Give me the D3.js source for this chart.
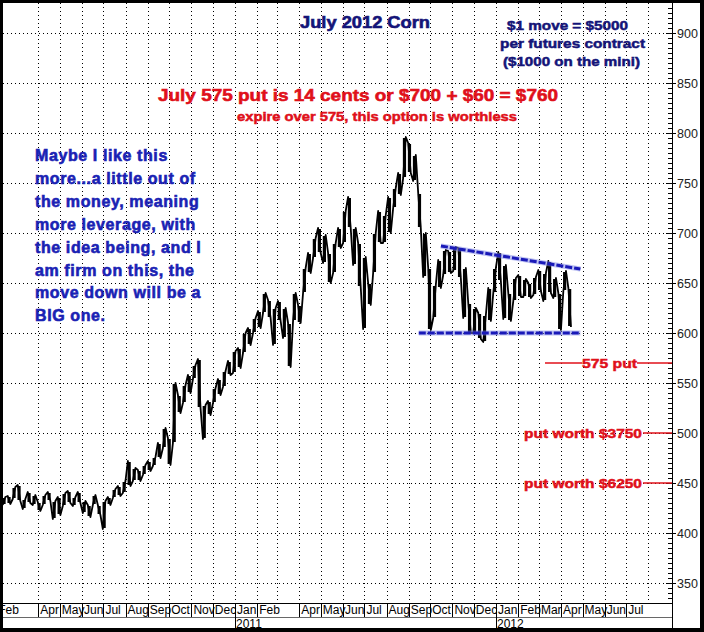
<!DOCTYPE html>
<html><head><meta charset="utf-8">
<script src="https://cdn.jsdelivr.net/npm/d3@7/dist/d3.min.js"></script>
<style>body{margin:0;background:#fff}svg{display:block}</style>
</head><body>
<script>
// ---------- DATA ----------
const weekStart = "2010-02-12"; // first weekly bar (Friday)
const highs = [436,437,446,448,434,441,438,431,438,441,432,436,440,442,436,441,432,428,438,428,
  432,436,444,447,452,472,465,463,468,472,476,490,505,495,550,538,548,558,568,574,
  528,532,545,554,562,572,582,585,600,605,615,622,640,633,625,632,625,610,640,628,
  665,680,695,705,698,680,690,705,722,736,705,690,676,650,700,722,718,736,745,760,
  796,790,778,740,700,665,648,673,683,682,686,685,665,630,625,620,618,645,665,681,
  668,640,655,658,654,650,656,663,660,672,655,640,662,645];
const lows = [428,429,434,432,424,430,428,422,428,432,414,418,427,430,427,430,420,416,428,418,
  404,428,435,437,440,447,452,452,458,462,467,475,485,468,490,520,530,540,554,525,
  494,518,530,538,546,558,560,565,580,588,600,605,620,615,588,612,595,566,612,610,
  640,660,675,680,670,650,660,685,690,705,668,646,604,628,660,690,690,700,725,738,
  755,760,752,705,656,603,615,645,658,660,662,655,615,600,600,594,591,612,640,652,
  614,612,632,636,636,635,638,642,632,640,635,603,642,606];
const yTicks = [350,400,450,500,550,600,650,700,750,800,850,900];
const monthLabels = ["2010-02-01","2010-04-01","2010-05-01","2010-06-01","2010-07-01","2010-08-01",
  "2010-09-01","2010-10-01","2010-11-01","2010-12-01","2011-01-01","2011-02-01","2011-04-01",
  "2011-05-01","2011-06-01","2011-07-01","2011-08-01","2011-09-01","2011-10-01","2011-11-01",
  "2011-12-01","2012-01-01","2012-02-01","2012-03-01","2012-04-01","2012-05-01","2012-06-01","2012-07-01"];
const yearLabels = ["2011-01-01","2012-01-01"];
const supportLine = {from:"2011-09-15", to:"2012-04-28", fromValue:600, toValue:600};
const resistanceLine = {from:"2011-10-16", to:"2012-04-28", fromValue:687, toValue:664};
const levelValues = [570, 500, 450];
const levelLabels = ["575 put", "put worth $3750", "put worth $6250"];
const noteLines = ["Maybe I like this","more...a little out of","the money, meaning","more leverage, with",
  "the idea being, and I","am firm on this, the","move down will be a","BIG one."];

// ---------- SETUP ----------
const W = 704, H = 632;
const plotL = 3, plotR = 672, plotT = 3, plotB = 603;
const parse = d3.timeParse("%Y-%m-%d");
const x = d3.scaleTime().domain([new Date(2011,0,1), new Date(2012,0,1)]).range([235, 496]);
const y = d3.scaleLinear().domain([350, 900]).range([583, 33]);
const font = "'Liberation Sans', Arial, Helvetica, sans-serif";

const svg = d3.select("body").append("svg").attr("width", W).attr("height", H)
  .style("font-family", font);
svg.append("rect").attr("width", W).attr("height", H).attr("fill", "#000");
svg.append("rect").attr("x", 3).attr("y", 3).attr("width", 697).attr("height", 625).attr("fill", "#fff");

const defs = svg.append("defs");
defs.append("clipPath").attr("id", "clip").append("rect")
  .attr("x", plotL).attr("y", plotT).attr("width", plotR - plotL).attr("height", plotB - plotT);
defs.append("clipPath").attr("id", "clipAx").append("rect")
  .attr("x", 3).attr("y", 3).attr("width", 697).attr("height", 625);

// ---------- GRID ----------
const grid = svg.append("g").attr("clip-path", "url(#clip)");
grid.selectAll("line.h").data(yTicks).join("line")
  .attr("x1", plotL).attr("x2", plotR).attr("y1", d => y(d) + 0.5).attr("y2", d => y(d) + 0.5)
  .attr("stroke", "#000").attr("stroke-dasharray", "1,3");
const gridMonths = d3.timeMonth.range(new Date(2010,3,1), new Date(2012,8,1));
grid.selectAll("line.v").data(gridMonths).join("line")
  .attr("x1", d => Math.round(x(d)) + 0.5).attr("x2", d => Math.round(x(d)) + 0.5)
  .attr("y1", plotT).attr("y2", plotB)
  .attr("stroke", "#000").attr("stroke-dasharray", "1,3");

// ---------- PRICE BARS ----------
const start = parse(weekStart);
const bars = highs.map((h, i) => ({date: d3.timeDay.offset(start, 7 * i), high: h, low: lows[i]}));
const pts = [];
bars.forEach((b, i) => {
  const cx = x(b.date);
  if (i % 2 === 0) { pts.push([cx - 1.3, y(b.low)]); pts.push([cx + 1.3, y(b.high)]); }
  else { pts.push([cx - 1.3, y(b.high)]); pts.push([cx + 1.3, y(b.low)]); }
});
const plot = svg.append("g").attr("clip-path", "url(#clip)");
plot.append("path").attr("d", d3.line()(pts)).attr("fill", "none")
  .attr("stroke", "#000").attr("stroke-width", 1.8).attr("stroke-linejoin", "round");
plot.selectAll("line.bar").data(bars).join("line")
  .attr("x1", d => x(d.date)).attr("x2", d => x(d.date))
  .attr("y1", d => y(d.high) + 1).attr("y2", d => y(d.low) - 1)
  .attr("stroke", "#000").attr("stroke-width", 3.2);

// ---------- TREND LINES ----------
[supportLine, resistanceLine].forEach(l => {
  plot.append("line")
    .attr("x1", x(parse(l.from))).attr("x2", x(parse(l.to)))
    .attr("y1", y(l.fromValue)).attr("y2", y(l.toValue))
    .attr("stroke", "#7f86e8").attr("stroke-width", 5).attr("opacity", 0.5);
  plot.append("line")
    .attr("x1", x(parse(l.from))).attr("x2", x(parse(l.to)))
    .attr("y1", y(l.fromValue)).attr("y2", y(l.toValue))
    .attr("stroke", "#1a1ab8").attr("stroke-width", 3).attr("stroke-dasharray", "7,2");
});

// ---------- Y AXIS (right) ----------
const ax = svg.append("g");
ax.append("line").attr("x1", plotR + 0.5).attr("x2", plotR + 0.5).attr("y1", 3).attr("y2", 628)
  .attr("stroke", "#000");
const minor = d3.range(335, 930, 5);
ax.selectAll("line.mt").data(minor).join("line")
  .attr("x1", plotR - 4).attr("x2", plotR).attr("y1", d => y(d) + 0.5).attr("y2", d => y(d) + 0.5)
  .attr("stroke", "#000");
ax.selectAll("line.Mt").data(yTicks).join("line")
  .attr("x1", plotR - 6).attr("x2", plotR + 4).attr("y1", d => y(d) + 0.5).attr("y2", d => y(d) + 0.5)
  .attr("stroke", "#000");
ax.selectAll("text.yl").data(yTicks).join("text")
  .attr("x", plotR + 5).attr("y", d => y(d) + 5)
  .attr("font-size", 12.5).attr("fill", "#222").text(d => d);

// ---------- X AXIS (bottom) ----------
const xa = svg.append("g").attr("clip-path", "url(#clipAx)");
xa.append("line").attr("x1", 3).attr("x2", plotR).attr("y1", plotB + 0.5).attr("y2", plotB + 0.5).attr("stroke", "#000");
xa.append("line").attr("x1", 3).attr("x2", plotR).attr("y1", 617.5).attr("y2", 617.5).attr("stroke", "#000").attr("stroke-width", 0.6);
const fmtMon = d3.timeFormat("%b");
const ml = monthLabels.map(parse);
xa.selectAll("line.ms").data(ml).join("line")
  .attr("x1", d => Math.round(x(d)) + 0.5).attr("x2", d => Math.round(x(d)) + 0.5)
  .attr("y1", plotB).attr("y2", 617).attr("stroke", "#000");
xa.selectAll("text.ml").data(ml).join("text")
  .attr("x", d => x(d) + 2).attr("y", 614)
  .attr("font-size", 12).attr("fill", "#000").text(d => fmtMon(d));
const yl = yearLabels.map(parse);
xa.selectAll("line.ys").data(yl).join("line")
  .attr("x1", d => Math.round(x(d)) + 0.5).attr("x2", d => Math.round(x(d)) + 0.5)
  .attr("y1", 617).attr("y2", 628).attr("stroke", "#000");
xa.selectAll("text.yt").data(yl).join("text")
  .attr("x", d => x(d) + 1).attr("y", 628)
  .attr("font-size", 12).attr("fill", "#000").text(d => d3.timeFormat("%Y")(d));

// ---------- ANNOTATIONS ----------
const navy = "#141478", red = "#e0101a", blue = "#1a22b4";
function txt(str, xx, yy, size, color, len, sw) {
  const t = svg.append("text").attr("x", xx).attr("y", yy).attr("font-size", size)
    .attr("font-weight", "bold").attr("fill", color)
    .attr("stroke", color).attr("stroke-width", sw || 0.5).text(str);
  if (len) t.attr("textLength", len).attr("lengthAdjust", "spacingAndGlyphs");
  return t;
}
txt("July 2012 Corn", 300, 28, 16, navy, 130, 0.6);
txt("$1 move = $5000", 507, 30, 13, navy, 121);
txt("per futures contract", 500, 48, 13, navy, 145);
txt("($1000 on the mini)", 503, 66, 13, navy, 137);
txt("July 575 put is 14 cents or $700 + $60 = $760", 158, 101, 17, red, 400, 0.6);
txt("expire over 575, this option is worthless", 237, 121, 12.5, red, 280);

noteLines.forEach((s, i) => {
  svg.append("text").attr("x", 35).attr("y", 161 + i * 22.9).attr("font-size", 16)
    .attr("font-weight", "bold").attr("letter-spacing", 0.6).attr("fill", blue)
    .attr("stroke", blue).attr("stroke-width", 0.6).text(s);
});

// level markers
const lvl = svg.append("g");
lvl.append("line").attr("x1", 545).attr("x2", 582).attr("y1", y(levelValues[0])).attr("y2", y(levelValues[0]))
  .attr("stroke", red).attr("stroke-width", 1.5);
lvl.append("line").attr("x1", 637).attr("x2", plotR).attr("y1", y(levelValues[0])).attr("y2", y(levelValues[0]))
  .attr("stroke", red).attr("stroke-width", 1.5);
txt(levelLabels[0], 582, y(levelValues[0]) + 5, 13.5, red, 55);
[1, 2].forEach(k => {
  lvl.append("line").attr("x1", 643).attr("x2", plotR).attr("y1", y(levelValues[k])).attr("y2", y(levelValues[k]))
    .attr("stroke", red).attr("stroke-width", 1.5);
  txt(levelLabels[k], 524, y(levelValues[k]) + 5, 13.5, red, 118);
});
</script>
</body></html>
